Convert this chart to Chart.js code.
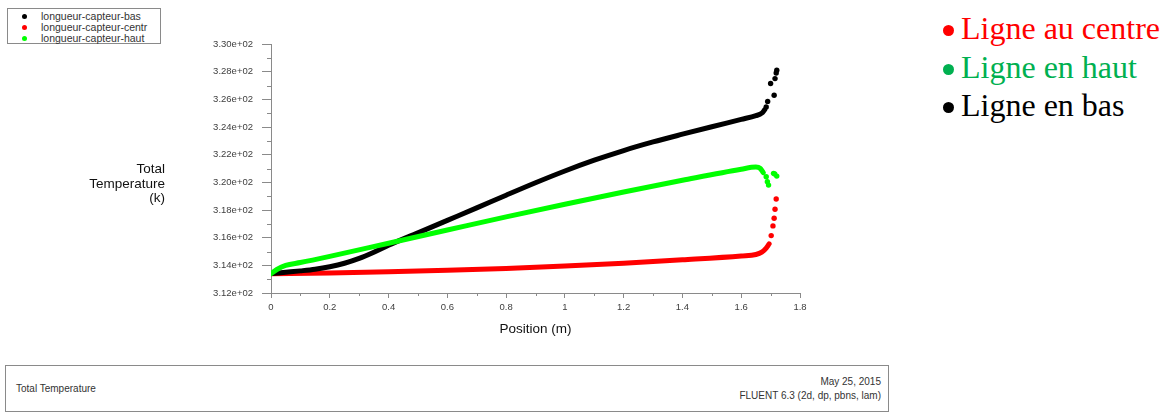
<!DOCTYPE html>
<html>
<head>
<meta charset="utf-8">
<script src="https://cdn.jsdelivr.net/npm/chart.js@4/dist/chart.umd.min.js"></script>
<style>
  html, body { margin: 0; padding: 0; background: #fff; }
  body { width: 1168px; height: 415px; position: relative; overflow: hidden;
         font-family: "Liberation Sans", Arial, sans-serif; }
  #plot { position: absolute; left: 0; top: 0; width: 830px; height: 350px; }
  .frame { position: absolute; border: 1px solid #8a8a8a; background: #fff; box-sizing: border-box; }
  .keyrow { position: absolute; left: 33px; font-size: 10.5px; line-height: 11px; color: #333; white-space: nowrap; }
  .keydot { position: absolute; left: -19px; top: 3px; width: 5px; height: 5px; border-radius: 50%; }
  #ytitle { position: absolute; left: 0; top: 162px; width: 165px; text-align: right;
            font-size: 13.5px; line-height: 14.5px; color: #111; }
  .foot { position: absolute; font-size: 10px; color: #333; white-space: nowrap; }
  .big { position: absolute; left: 961px; font-family: "Liberation Serif", "Times New Roman", serif;
         font-size: 32px; line-height: 38.5px; white-space: nowrap; }
  .bullet { position: absolute; left: -18px; width: 11px; height: 11px; border-radius: 50%; top: 16px; }
</style>
</head>
<body>
<canvas id="plot" width="830" height="350"></canvas>

<div class="frame" style="left:7px;top:8px;width:154px;height:36px;">
  <div class="keyrow" style="top:2px;"><span class="keydot" style="background:#000"></span>longueur-capteur-bas</div>
  <div class="keyrow" style="top:13px;"><span class="keydot" style="background:#ff0000"></span>longueur-capteur-centr</div>
  <div class="keyrow" style="top:24px;"><span class="keydot" style="background:#00ff00"></span>longueur-capteur-haut</div>
</div>

<div id="ytitle">Total<br>Temperature<br>(k)</div>

<div class="frame" style="left:5px;top:365px;width:884px;height:47px;">
  <div class="foot" style="left:10px;top:17px;">Total Temperature</div>
  <div class="foot" style="right:7px;top:10px;">May 25, 2015</div>
  <div class="foot" style="right:7px;top:24px;">FLUENT 6.3 (2d, dp, pbns, lam)</div>
</div>

<div class="big" style="top:9px;color:#ff0000;"><span class="bullet" style="background:#ff0000"></span>Ligne au centre</div>
<div class="big" style="top:47.5px;color:#00b050;"><span class="bullet" style="background:#00b050"></span>Ligne en haut</div>
<div class="big" style="top:86px;color:#000;"><span class="bullet" style="background:#000"></span>Ligne en bas</div>

<script>
// Axis ticks
const xTickValues = [0, 0.2, 0.4, 0.6, 0.8, 1.0, 1.2, 1.4, 1.6, 1.8];
const xTickLabels = ['0', '0.2', '0.4', '0.6', '0.8', '1', '1.2', '1.4', '1.6', '1.8'];
const xMinorValues = [0.1, 0.3, 0.5, 0.7, 0.9, 1.1, 1.3, 1.5, 1.7];
const yTickValues = [312, 314, 316, 318, 320, 322, 324, 326, 328, 330];
const yTickLabels = ['3.12e+02', '3.14e+02', '3.16e+02', '3.18e+02', '3.20e+02',
                     '3.22e+02', '3.24e+02', '3.26e+02', '3.28e+02', '3.30e+02'];
const yMinorValues = [313, 315, 317, 319, 321, 323, 325, 327, 329];

// longueur-capteur-bas: position (m) / total temperature (K)
const basX = [0, 0.05, 0.1, 0.15, 0.2, 0.25, 0.3, 0.35, 0.4, 0.5, 0.6, 0.7, 0.8, 0.9, 1.0, 1.1, 1.2, 1.3, 1.4, 1.5, 1.6, 1.65, 1.67, 1.68];
const basT = [313.4, 313.5, 313.6, 313.72, 313.9, 314.15, 314.5, 314.95, 315.45, 316.35, 317.25, 318.15, 319.07, 319.97, 320.82, 321.6, 322.3, 322.92, 323.48, 324.02, 324.55, 324.82, 325.0, 325.25];
const basEndX = [1.685, 1.69, 1.70, 1.712, 1.715, 1.719, 1.721];
const basEndT = [325.45, 325.85, 327.15, 326.3, 327.5, 327.9, 328.1];

// longueur-capteur-centr
const centrX = [0, 0.2, 0.4, 0.6, 0.8, 1.0, 1.2, 1.4, 1.6, 1.65, 1.67, 1.685, 1.695];
const centrT = [313.4, 313.45, 313.53, 313.64, 313.78, 313.95, 314.15, 314.4, 314.68, 314.78, 314.95, 315.25, 315.55];
const centrEndX = [1.702, 1.708, 1.712, 1.715, 1.719];
const centrEndT = [316.15, 316.85, 317.4, 318.05, 318.8];

// longueur-capteur-haut
const hautX = [0, 0.02, 0.05, 0.1, 0.2, 0.4, 0.6, 0.8, 1.0, 1.2, 1.4, 1.6, 1.65, 1.665, 1.675];
const hautT = [313.4, 313.7, 314.0, 314.2, 314.65, 315.6, 316.55, 317.5, 318.42, 319.3, 320.15, 320.95, 321.1, 321.0, 320.7];
const hautEndX = [1.685, 1.689, 1.693, 1.71, 1.714, 1.721];
const hautEndT = [320.4, 320.05, 319.8, 320.65, 320.6, 320.45];

const pts = (xs, ys) => xs.map((x, i) => ({ x: x, y: ys[i] }));

function curve(xs, ys, color, order) {
  return {
    data: pts(xs, ys), showLine: true, borderColor: color, borderWidth: 5,
    borderCapStyle: 'round', borderJoinStyle: 'round',
    cubicInterpolationMode: 'monotone', pointRadius: 0, order: order
  };
}
function dots(xs, ys, color, order) {
  return {
    data: pts(xs, ys), showLine: false, pointRadius: 2.7, pointBorderWidth: 0,
    pointBackgroundColor: color, borderColor: color, order: order
  };
}

const AXIS = '#8a8a8a';

// small intermediate tick marks on both axes
const minorTicks = {
  id: 'minorTicks',
  afterDraw(chart) {
    const { ctx, chartArea, scales } = chart;
    ctx.save();
    ctx.strokeStyle = AXIS;
    ctx.lineWidth = 1;
    ctx.beginPath();
    yMinorValues.forEach(v => {
      const p = Math.round(scales.y.getPixelForValue(v)) + 0.5;
      ctx.moveTo(chartArea.left - 4, p); ctx.lineTo(chartArea.left, p);
    });
    xMinorValues.forEach(v => {
      const p = Math.round(scales.x.getPixelForValue(v)) + 0.5;
      ctx.moveTo(p, chartArea.bottom); ctx.lineTo(p, chartArea.bottom + 3);
    });
    ctx.stroke();
    ctx.restore();
  }
};

new Chart(document.getElementById('plot'), {
  type: 'scatter',
  data: {
    datasets: [
      curve(basX, basT, '#000000', 1),
      dots(basEndX, basEndT, '#000000', 1),
      curve(centrX, centrT, '#ff0000', 2),
      dots(centrEndX, centrEndT, '#ff0000', 2),
      curve(hautX, hautT, '#00ff00', 0),
      dots(hautEndX, hautEndT, '#00ff00', 0)
    ]
  },
  options: {
    responsive: false,
    animation: false,
    devicePixelRatio: 1,
    layout: { padding: { left: 0, top: 44, right: 30, bottom: 0 } },
    plugins: { legend: { display: false }, tooltip: { enabled: false } },
    scales: {
      x: {
        type: 'linear', min: 0, max: 1.8,
        afterBuildTicks: s => { s.ticks = xTickValues.map(v => ({ value: v })); },
        afterFit: s => { s.height = 57; },
        grid: { drawOnChartArea: false, drawTicks: true, tickLength: 5, color: AXIS },
        border: { color: AXIS, width: 1 },
        ticks: {
          autoSkip: false, maxRotation: 0, padding: 4, color: '#404040',
          font: { family: 'Liberation Sans', size: 9.5 },
          callback: (v, i) => xTickLabels[i]
        },
        title: {
          display: true, text: 'Position (m)', color: '#111',
          font: { family: 'Liberation Sans', size: 13.5 },
          padding: { top: 0, bottom: 13 }
        }
      },
      y: {
        type: 'linear', min: 312, max: 330,
        afterBuildTicks: s => { s.ticks = yTickValues.map(v => ({ value: v })); },
        afterFit: s => { s.width = 271; },
        grid: { drawOnChartArea: false, drawTicks: true, tickLength: 9, color: AXIS },
        border: { color: AXIS, width: 1 },
        ticks: {
          autoSkip: false, padding: 9, color: '#404040',
          font: { family: 'Liberation Sans', size: 9.5 },
          callback: (v, i) => yTickLabels[i]
        }
      }
    }
  },
  plugins: [minorTicks]
});
</script>
</body>
</html>
